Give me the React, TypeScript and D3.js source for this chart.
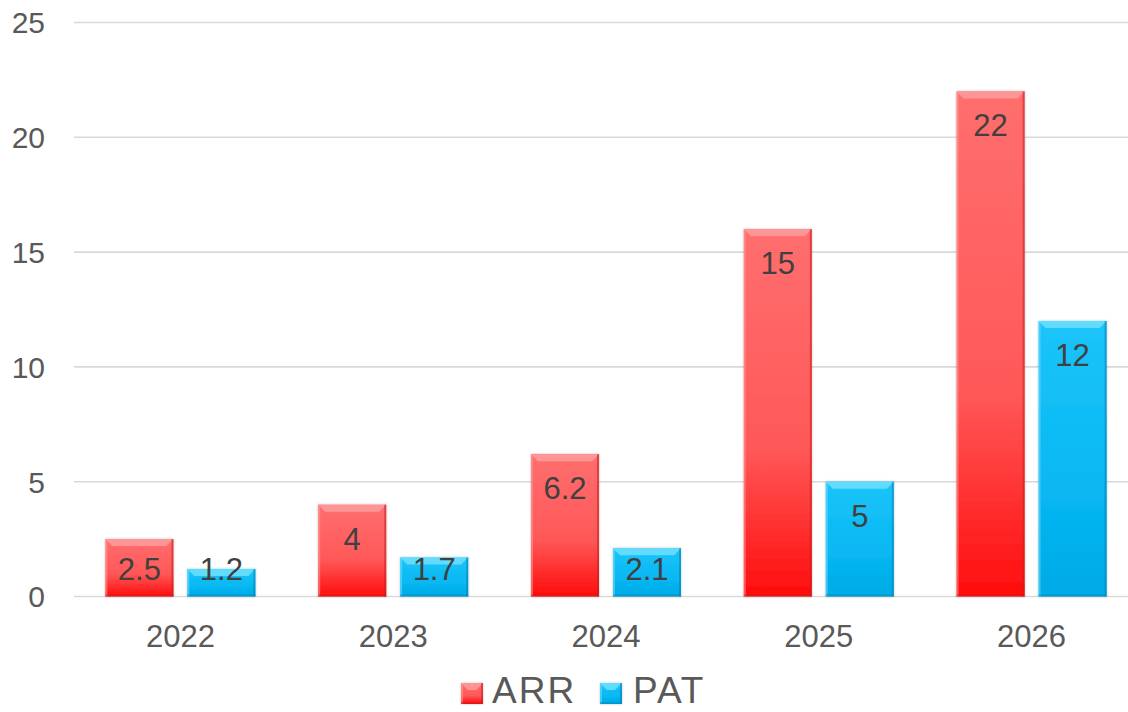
import React from "react";
import * as d3 from "d3";

const years = ["2022", "2023", "2024", "2025", "2026"];
const seriesNames = ["ARR", "PAT"];
const arrValues = [2.5, 4, 6.2, 16, 22];
const arrLabels = ["2.5", "4", "6.2", "15", "22"];
const patValues = [1.2, 1.7, 2.1, 5, 12];
const patLabels = ["1.2", "1.7", "2.1", "5", "12"];
const yTicks = [0, 5, 10, 15, 20, 25];

const W = 1128;
const H = 712;
const FONT = "'Liberation Sans', Arial, sans-serif";

const palette: Record<string, { top: string; mid: string; bot: string; light: string; dark: string }> = {
  ARR: { top: "#ff6e6e", mid: "#ff5858", bot: "#ff0c0c", light: "#ffa0a0", dark: "#c81e1e" },
  PAT: { top: "#1cc4fa", mid: "#08b8f2", bot: "#00aae6", light: "#74e2ff", dark: "#0082b4" },
};

function Bar({ x, y, w, h, s }: { x: number; y: number; w: number; h: number; s: string }) {
  const b = Math.min(7, h / 3);
  const e = 2;
  const c = palette[s];
  return (
    <g filter="url(#shadow)">
      <rect x={x} y={y} width={w} height={h} fill={`url(#grad-${s})`} />
      <polygon
        points={`${x},${y} ${x + w},${y} ${x + w - b},${y + b} ${x + b},${y + b}`}
        fill={c.light}
        opacity={0.8}
      />
      <rect x={x} y={y} width={e} height={h} fill={c.light} opacity={0.5} />
      <rect x={x + w - e} y={y} width={e} height={h} fill={c.dark} opacity={0.55} />
      <rect x={x} y={y + h - e} width={w} height={e} fill={c.dark} opacity={0.45} />
    </g>
  );
}

export default function App() {
  const x0 = d3.scaleBand<string>().domain(years).range([74, 1138]).paddingInner(0.295).paddingOuter(0.1475);
  const x1 = d3.scaleBand<string>().domain(seriesNames).range([0, x0.bandwidth()]).paddingInner(0.17);
  const y = d3.scaleLinear().domain([0, 25]).range([596.5, 22.5]);

  const data: Record<string, { v: number[]; l: string[] }> = {
    ARR: { v: arrValues, l: arrLabels },
    PAT: { v: patValues, l: patLabels },
  };

  const legendItems = [
    { s: "ARR", mx: 461, tx: 492 },
    { s: "PAT", mx: 600, tx: 633 },
  ];

  return (
    <svg width={W} height={H} style={{ position: "absolute", left: 0, top: 0, background: "#fff" }} fontFamily={FONT}>
      <defs>
        {seriesNames.map((s) => (
          <linearGradient key={s} id={`grad-${s}`} x1="0" y1="0" x2="0" y2="1">
            <stop offset="0" stopColor={palette[s].top} />
            <stop offset="0.6" stopColor={palette[s].mid} />
            <stop offset="1" stopColor={palette[s].bot} />
          </linearGradient>
        ))}
        <filter id="shadow" x="-10%" y="-10%" width="120%" height="120%">
          <feDropShadow dx="0" dy="0" stdDeviation="1.2" floodColor="#000" floodOpacity="0.25" />
        </filter>
      </defs>

      {yTicks.map((t) => (
        <g key={t}>
          <line x1={74} x2={W} y1={y(t)} y2={y(t)} stroke="#d9d9d9" strokeWidth={1.6} />
          <text x={45} y={y(t)} dy="0.36em" textAnchor="end" fontSize={30} fill="#595959">
            {t}
          </text>
        </g>
      ))}

      {years.map((yr, i) => (
        <g key={yr}>
          {seriesNames.map((s) => {
            const v = data[s].v[i];
            const bx = (x0(yr) as number) + (x1(s) as number);
            const bw = x1.bandwidth();
            const top = y(v);
            const h = y(0) - top;
            const base = Math.min(top + 45, y(0) - 17);
            return (
              <g key={s}>
                <Bar x={bx} y={top} w={bw} h={h} s={s} />
                <text x={bx + bw / 2} y={base} textAnchor="middle" fontSize={31} fill="#404040">
                  {data[s].l[i]}
                </text>
              </g>
            );
          })}
          <text x={(x0(yr) as number) + x0.bandwidth() / 2} y={647} textAnchor="middle" fontSize={31} fill="#595959">
            {yr}
          </text>
        </g>
      ))}

      {legendItems.map((it) => (
        <g key={it.s}>
          <Bar x={it.mx} y={683} w={22} h={21} s={it.s} />
          <text x={it.tx} y={703} fontSize={37} fill="#595959" letterSpacing={2}>
            {it.s}
          </text>
        </g>
      ))}
    </svg>
  );
}
